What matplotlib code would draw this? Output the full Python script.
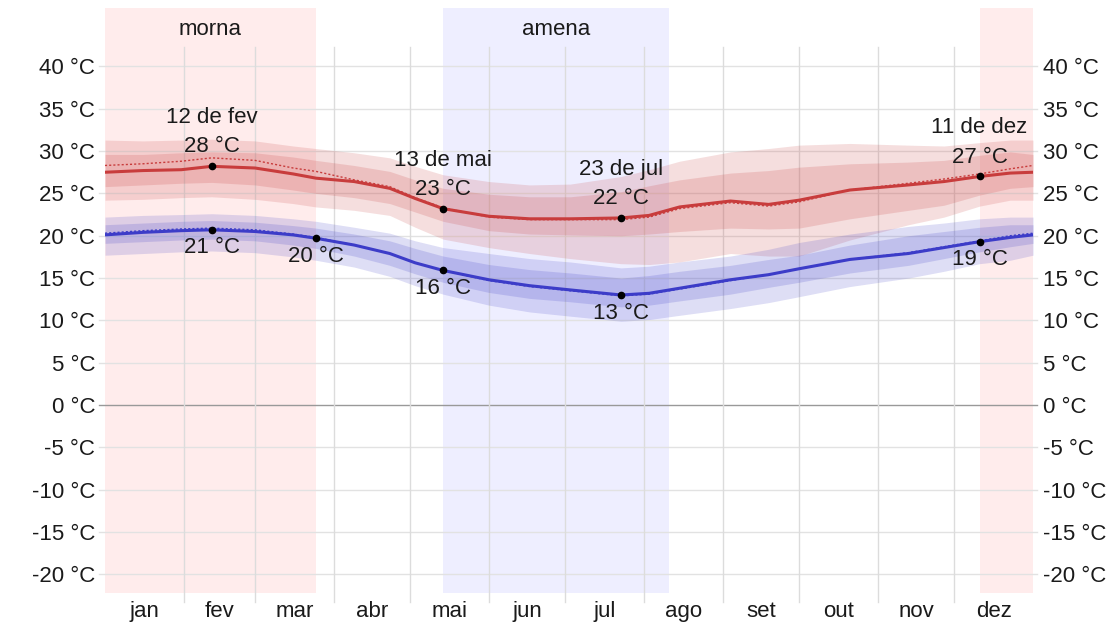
import numpy as np
import matplotlib.pyplot as plt

# day of year (0 = 1 jan) where values were read
days = [0, 15, 30, 42, 59, 74, 83, 98, 112, 122, 133, 151, 167, 183, 203,
        214, 226, 246, 261, 273, 293, 316, 330, 344, 356, 365]

# average daily high / low (°C)
high = [27.5, 27.7, 27.8, 28.2, 28.0, 27.3, 26.8, 26.4, 25.6, 24.4, 23.2, 22.3, 22.0,
        22.0, 22.1, 22.4, 23.4, 24.1, 23.7, 24.2, 25.4, 26.0, 26.4, 27.0, 27.4, 27.5]
low = [20.1, 20.4, 20.6, 20.7, 20.5, 20.1, 19.7, 18.9, 17.9, 16.8, 15.9, 14.8, 14.1,
       13.6, 13.0, 13.2, 13.8, 14.8, 15.4, 16.1, 17.2, 17.9, 18.6, 19.3, 19.8, 20.1]

# dotted "perceived" lines
high_dot = [28.3, 28.5, 28.8, 29.2, 28.9, 28.0, 27.6, 26.6, 25.8, 24.5, 23.3, 22.2, 21.9,
            21.9, 21.9, 22.2, 23.2, 23.9, 23.5, 24.0, 25.4, 26.2, 26.7, 27.3, 27.9, 28.3]
low_dot = [20.3, 20.6, 20.8, 20.9, 20.7, 20.2, 19.8, 18.9, 17.9, 16.8, 15.9, 14.7, 14.0,
           13.5, 12.9, 13.1, 13.7, 14.7, 15.4, 16.1, 17.2, 18.0, 18.7, 19.4, 20.0, 20.3]

# percentile bands: 90th, 75th, 25th, 10th
high_p90 = [31.3, 31.2, 31.3, 31.4, 31.2, 30.6, 30.3, 29.8, 29.2, 28.2, 27.2, 26.4, 26.0,
            26.1, 27.0, 27.8, 28.8, 29.9, 30.3, 30.7, 30.9, 30.7, 30.6, 31.0, 31.3, 31.3]
high_p75 = [29.6, 29.6, 29.8, 29.9, 29.8, 29.3, 28.9, 28.3, 27.6, 26.6, 25.6, 24.9, 24.6,
            24.6, 25.2, 25.9, 26.6, 27.4, 27.7, 28.1, 28.5, 28.7, 28.9, 29.5, 29.9, 29.6]
high_p25 = [25.8, 26.0, 26.2, 26.3, 26.0, 25.4, 25.0, 24.5, 23.8, 22.8, 21.7, 20.6, 20.2,
            20.1, 20.0, 20.2, 20.5, 20.9, 20.8, 20.9, 22.0, 23.0, 23.6, 24.8, 25.6, 25.8]
high_p10 = [24.2, 24.3, 24.5, 24.6, 24.3, 23.8, 23.4, 23.0, 22.4, 21.0, 19.6, 18.6, 17.9,
            17.3, 16.7, 16.6, 16.9, 17.9, 17.6, 17.6, 19.5, 21.3, 22.2, 23.5, 24.2, 24.2]

low_p90 = [22.2, 22.4, 22.5, 22.6, 22.4, 22.0, 21.7, 21.0, 20.3, 19.4, 18.6, 17.9, 17.3,
           16.9, 16.2, 16.4, 16.9, 17.6, 18.4, 19.2, 20.2, 21.1, 21.5, 22.0, 22.2, 22.2]
low_p75 = [21.3, 21.5, 21.7, 21.8, 21.6, 21.2, 20.9, 20.2, 19.4, 18.5, 17.6, 16.6, 16.0,
           15.6, 15.0, 15.3, 15.8, 16.5, 17.2, 17.7, 18.9, 20.0, 20.5, 21.0, 21.3, 21.3]
low_p25 = [19.1, 19.3, 19.5, 19.6, 19.4, 18.9, 18.5, 17.6, 16.5, 15.5, 14.5, 13.3, 12.6,
           12.2, 11.6, 11.8, 12.3, 13.1, 13.9, 14.5, 15.6, 16.5, 17.3, 18.1, 18.7, 19.1]
low_p10 = [17.7, 17.9, 18.1, 18.2, 18.0, 17.5, 17.1, 16.3, 15.2, 14.1, 13.1, 11.8, 11.0,
           10.5, 9.9, 10.1, 10.6, 11.4, 12.1, 12.8, 14.0, 15.0, 15.8, 16.7, 17.1, 17.7]

months = ["jan", "fev", "mar", "abr", "mai", "jun", "jul", "ago", "set", "out", "nov", "dez"]
month_len = [31, 28, 31, 30, 31, 30, 31, 31, 30, 31, 30, 31]
yticks = list(range(-20, 45, 5))

# seasons: (start day, end day, label)
seasons_warm = [(0, 83, "morna"), (344, 365, "")]
seasons_mild = [(133, 222, "amena")]

# highlighted points: (day, value, date label)
high_marks = [(42, 28.2, "12 de fev", "28 °C"), (133, 23.2, "13 de mai", "23 °C"),
              (203, 22.1, "23 de jul", "22 °C"), (344, 27.0, "11 de dez", "27 °C")]
low_marks = [(42, 20.7, "21 °C"), (83, 19.7, "20 °C"), (133, 15.9, "16 °C"),
             (203, 13.0, "13 °C"), (344, 19.3, "19 °C")]

plt.rcParams['font.family'] = ['Liberation Sans', 'DejaVu Sans']
txt = '#1a1a1a'
fs = 16

fig = plt.figure(figsize=(11.14, 6.25), dpi=100)
ax = fig.add_axes([105 / 1114, 32 / 625, 928 / 1114, 585 / 625])
ax.set_xlim(0, 365)
ax.set_ylim(-22.2, 46.9)

for a, b, lab in seasons_warm:
    ax.axvspan(a, b, color='#ffecec', lw=0, zorder=0)
    if lab:
        ax.text((a + b) / 2, 44.4, lab, ha='center', va='center', fontsize=fs, color=txt)
for a, b, lab in seasons_mild:
    ax.axvspan(a, b, color='#eeeeff', lw=0, zorder=0)
    ax.text((a + b) / 2, 44.4, lab, ha='center', va='center', fontsize=fs, color=txt)

# grid
for t in yticks:
    ax.axhline(t, xmin=-0.006, xmax=1.004, color='#999999' if t == 0 else '#e2e2e2',
               lw=1, zorder=1, clip_on=False)
starts = np.cumsum([0] + month_len)
for s in starts[1:-1]:
    ax.axvline(s, ymin=-0.015, ymax=0.933, color='#dcdcdc', lw=1, zorder=1, clip_on=False)

# bands
red, blue = '#c83c3c', '#3c3cc8'
ax.fill_between(days, high_p10, high_p90, color=red, alpha=0.17, lw=0, zorder=2)
ax.fill_between(days, high_p25, high_p75, color=red, alpha=0.18, lw=0, zorder=2)
ax.fill_between(days, low_p10, low_p90, color=blue, alpha=0.17, lw=0, zorder=2)
ax.fill_between(days, low_p25, low_p75, color=blue, alpha=0.18, lw=0, zorder=2)

ax.plot(days, high_dot, color=red, lw=1, ls=(0, (1.5, 1.5)), zorder=3)
ax.plot(days, low_dot, color=blue, lw=1, ls=(0, (1.5, 1.5)), zorder=3)
ax.plot(days, high, color=red, lw=2.2, zorder=4)
ax.plot(days, low, color=blue, lw=2.2, zorder=4)

for d, v, lab, val in high_marks:
    ax.plot(d, v, 'o', color='black', ms=4.5, zorder=5)
    ax.annotate(val, (d, v), xytext=(0, 14), textcoords='offset points', ha='center',
                va='center', fontsize=fs, color=txt, zorder=6)
    ax.annotate(lab, (d, v), xytext=(0, 35), textcoords='offset points', ha='center',
                va='center', fontsize=fs, color=txt, zorder=6)
for d, v, val in low_marks:
    ax.plot(d, v, 'o', color='black', ms=4.5, zorder=5)
    ax.annotate(val, (d, v), xytext=(0, -13), textcoords='offset points', ha='center',
                va='center', fontsize=fs, color=txt, zorder=6)

ax.set_yticks(yticks)
ax.set_yticklabels([f"{t} °C" for t in yticks])
mids = [(starts[i] + starts[i + 1]) / 2 for i in range(12)]
ax.set_xticks(mids)
ax.set_xticklabels(months)
ax.tick_params(axis='y', length=0, pad=7, labelsize=fs, labelcolor=txt,
               labelleft=True, labelright=True)
ax.tick_params(axis='x', length=0, pad=6, labelsize=fs, labelcolor=txt)
for sp in ax.spines.values():
    sp.set_visible(False)

fig.savefig("out.png", dpi=100)
